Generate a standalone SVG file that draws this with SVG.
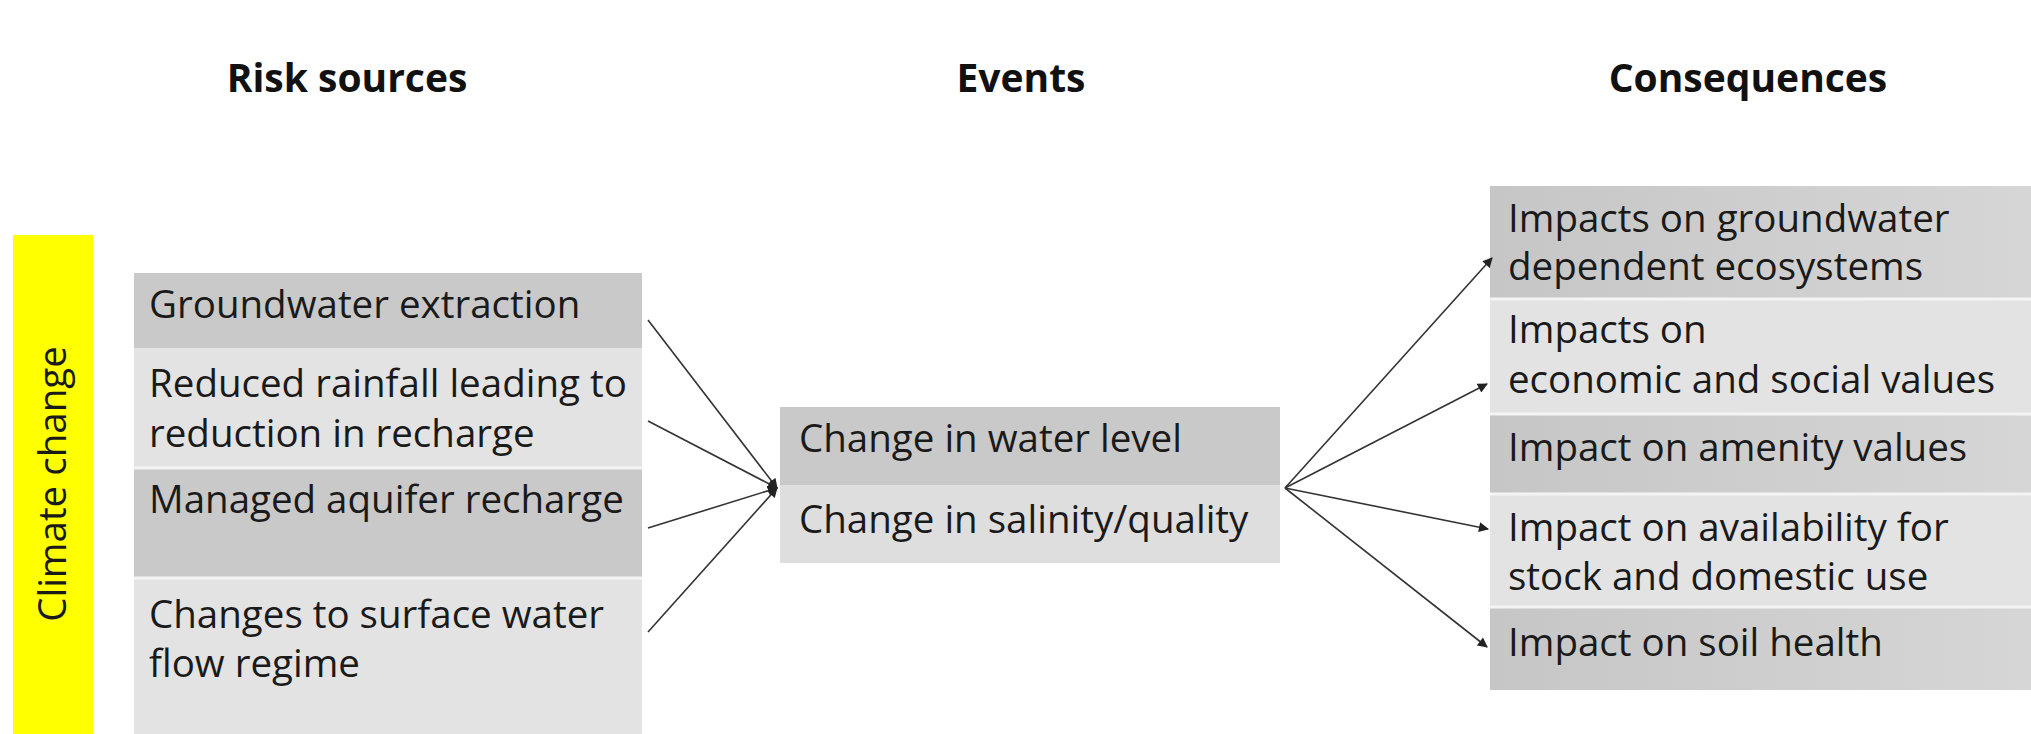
<svg xmlns="http://www.w3.org/2000/svg" width="2031" height="734" viewBox="0 0 2031 734">
  <defs>
    <style>
      .hdr { font-family: "Open Sans", "Liberation Sans", sans-serif; font-weight: bold; font-size: 39px; fill: #111; text-anchor: middle; }
      .txt { font-family: "Open Sans", "Liberation Sans", sans-serif; font-size: 38.5px; fill: #1a1a1a; }
      .dark { fill: #c9c9c9; }
      .light { fill: #e3e3e3; }
      .cdark { fill: url(#gd); }
      .sep { stroke: #f4f4f4; stroke-width: 3; }
      .conn { stroke: #333; stroke-width: 1.6; fill: none; marker-end: url(#arr); }
    </style>
    <linearGradient id="gd" x1="0" y1="0" x2="1" y2="0">
      <stop offset="0" stop-color="#c6c6c6"/>
      <stop offset="1" stop-color="#d6d6d6"/>
    </linearGradient>
    <marker id="arr" viewBox="0 0 10 10" refX="9" refY="5" markerWidth="11" markerHeight="10" markerUnits="userSpaceOnUse" orient="auto">
      <path d="M0,0 L10,5 L0,10 z" fill="#222"/>
    </marker>
  </defs>
  <rect x="0" y="0" width="2031" height="734" fill="#ffffff"/>

  <g id="headers">
    <text class="hdr" x="347" y="92">Risk sources</text>
    <text class="hdr" x="1021" y="92">Events</text>
    <text class="hdr" x="1748" y="92">Consequences</text>
  </g>

  <g id="climate-change">
    <rect x="13" y="235" width="80" height="499" fill="#ffff00"/>
    <text class="txt" font-size="40.5" transform="translate(66,484) rotate(-90)" text-anchor="middle">Climate change</text>
  </g>

  <g id="risk-groundwater-extraction">
    <rect class="dark" x="134" y="273" width="508" height="75"/>
    <text class="txt" x="149" y="318">Groundwater extraction</text>
  </g>
  <g id="risk-reduced-rainfall">
    <rect class="light" x="134" y="348" width="508" height="120"/>
    <text class="txt" x="149" y="397">Reduced rainfall leading to</text>
    <text class="txt" x="149" y="447">reduction in recharge</text>
  </g>
  <g id="risk-managed-aquifer">
    <rect class="dark" x="134" y="468" width="508" height="110"/>
    <text class="txt" x="149" y="513">Managed aquifer recharge</text>
  </g>
  <g id="risk-surface-water">
    <rect class="light" x="134" y="578" width="508" height="156"/>
    <text class="txt" x="149" y="628">Changes to surface water</text>
    <text class="txt" x="149" y="677">flow regime</text>
  </g>
  <line class="sep" x1="134" y1="468" x2="642" y2="468"/>
  <line class="sep" x1="134" y1="578" x2="642" y2="578"/>

  <g id="events">
    <rect class="dark" x="780" y="407" width="500" height="78"/>
    <rect x="780" y="485" width="500" height="78" fill="#dedede"/>
    <text class="txt" x="799" y="452">Change in water level</text>
    <text class="txt" x="799" y="533">Change in salinity/quality</text>
  </g>

  <g id="cons-gde">
    <rect class="cdark" x="1490" y="186" width="541" height="113"/>
    <text class="txt" x="1508" y="232">Impacts on groundwater</text>
    <text class="txt" x="1508" y="280">dependent ecosystems</text>
  </g>
  <g id="cons-economic-social">
    <rect class="light" x="1490" y="299" width="541" height="115"/>
    <text class="txt" x="1508" y="343">Impacts on</text>
    <text class="txt" x="1508" y="393">economic and social values</text>
  </g>
  <g id="cons-amenity">
    <rect class="cdark" x="1490" y="414" width="541" height="80"/>
    <text class="txt" x="1508" y="461">Impact on amenity values</text>
  </g>
  <g id="cons-availability">
    <rect class="light" x="1490" y="494" width="541" height="113"/>
    <text class="txt" x="1508" y="541">Impact on availability for</text>
    <text class="txt" x="1508" y="590">stock and domestic use</text>
  </g>
  <g id="cons-soil">
    <rect class="cdark" x="1490" y="607" width="541" height="83"/>
    <text class="txt" x="1508" y="656">Impact on soil health</text>
  </g>
  <line class="sep" x1="1490" y1="299" x2="2031" y2="299"/>
  <line class="sep" x1="1490" y1="414" x2="2031" y2="414"/>
  <line class="sep" x1="1490" y1="494" x2="2031" y2="494"/>
  <line class="sep" x1="1490" y1="607" x2="2031" y2="607"/>

  <g id="connectors">
    <line class="conn" x1="648" y1="320" x2="777" y2="488"/>
    <line class="conn" x1="648" y1="421" x2="777" y2="488"/>
    <line class="conn" x1="648" y1="528" x2="777" y2="488"/>
    <line class="conn" x1="648" y1="632" x2="777" y2="488"/>
    <line class="conn" x1="1285" y1="488" x2="1492" y2="258"/>
    <line class="conn" x1="1285" y1="488" x2="1487" y2="384"/>
    <line class="conn" x1="1285" y1="488" x2="1488" y2="529"/>
    <line class="conn" x1="1285" y1="488" x2="1487" y2="647"/>
  </g>
</svg>
